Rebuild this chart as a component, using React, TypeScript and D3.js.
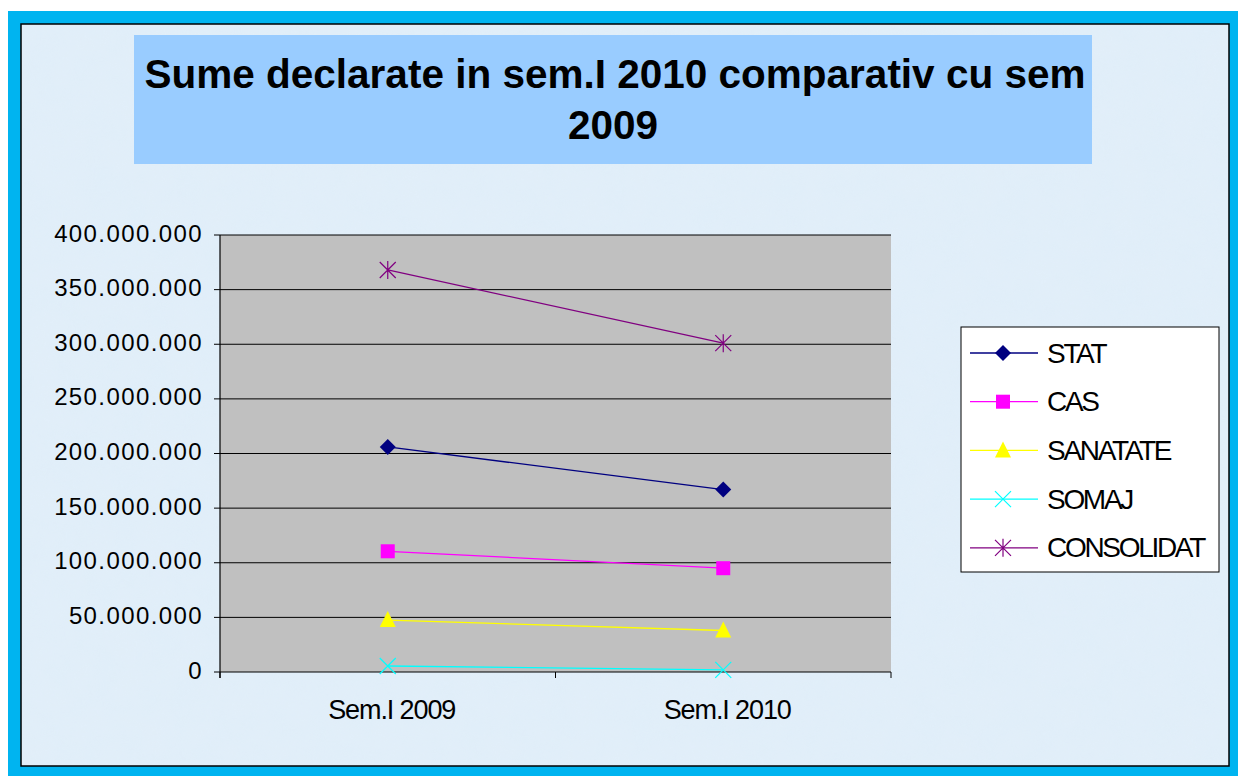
import React from "react";
import * as d3 from "d3";

const categories = ["Sem.I 2009", "Sem.I 2010"];
const seriesNames = ["STAT", "CAS", "SANATATE", "SOMAJ", "CONSOLIDAT"];
const statValues = [206000000, 167000000];
const casValues = [110500000, 95000000];
const sanatateValues = [47500000, 38000000];
const somajValues = [5500000, 2000000];
const consolidatValues = [368000000, 301000000];
const yTicks = [0, 50000000, 100000000, 150000000, 200000000, 250000000, 300000000, 350000000, 400000000];

const colors = ["#000080", "#FF00FF", "#FFFF00", "#00FFFF", "#800080"];
const markers = ["diamond", "square", "triangle", "x", "star"];

const W = 1238;
const H = 776;
const plot = { left: 220, right: 891, top: 235, bottom: 672 };

const fmt = (v: number) => (v === 0 ? "0" : d3.format(",")(v).replace(/,/g, "."));

const Marker = ({ type, x, y, color }: { type: string; x: number; y: number; color: string }) => {
  if (type === "diamond") {
    return <path d={`M${x},${y - 8}L${x + 8},${y}L${x},${y + 8}L${x - 8},${y}Z`} fill={color} />;
  }
  if (type === "square") {
    return <rect x={x - 7} y={y - 7} width={14} height={14} fill={color} />;
  }
  if (type === "triangle") {
    return <path d={`M${x},${y - 9}L${x + 8},${y + 7}L${x - 8},${y + 7}Z`} fill={color} />;
  }
  if (type === "x") {
    return (
      <path d={`M${x - 8},${y - 8}L${x + 8},${y + 8}M${x - 8},${y + 8}L${x + 8},${y - 8}`} stroke={color} strokeWidth={1.2} />
    );
  }
  return (
    <path
      d={`M${x - 8},${y - 8}L${x + 8},${y + 8}M${x - 8},${y + 8}L${x + 8},${y - 8}M${x},${y - 9}L${x},${y + 9}`}
      stroke={color}
      strokeWidth={1.2}
    />
  );
};

const App = () => {
  const series = [statValues, casValues, sanatateValues, somajValues, consolidatValues];

  const x = d3.scaleBand().domain(categories).range([plot.left, plot.right]);
  const y = d3.scaleLinear().domain([0, 400000000]).range([plot.bottom, plot.top]);
  const line = d3
    .line<number>()
    .x((d, i) => (x(categories[i]) as number) + x.bandwidth() / 2)
    .y((d) => y(d));

  const font = "Arial, 'Liberation Sans', sans-serif";

  return (
    <svg width={W} height={H} style={{ position: "absolute", left: 0, top: 0 }}>
      <defs>
        <filter id="tex" x="0" y="0" width="100%" height="100%">
          <feTurbulence type="fractalNoise" baseFrequency="0.035" numOctaves={3} seed={4} />
          <feColorMatrix
            type="matrix"
            values="0 0 0 0 0.78  0 0 0 0 0.86  0 0 0 0 0.94  0 0 0 0.6 0"
          />
        </filter>
      </defs>
      {/* frame */}
      <rect x={8} y={11} width={W - 8} height={H - 11} fill="#00B4F0" />
      <rect x={21} y={24} width={1208} height={742} fill="#E0EEF9" stroke="#000" strokeWidth={1.5} />
      <rect x={22} y={25} width={1206} height={740} filter="url(#tex)" opacity={0.6} />

      {/* title */}
      <rect x={134} y={35} width={958} height={129} fill="#99CCFF" />
      <text x={615} y={88} textAnchor="middle" fontFamily={font} fontWeight="bold" fontSize={40.5}>
        Sume declarate in sem.I 2010 comparativ cu sem
      </text>
      <text x={613} y={139} textAnchor="middle" fontFamily={font} fontWeight="bold" fontSize={40.5}>
        2009
      </text>

      {/* plot area */}
      <rect x={plot.left} y={plot.top} width={plot.right - plot.left} height={plot.bottom - plot.top} fill="#C0C0C0" />
      {yTicks.map((t) => (
        <g key={t}>
          <line x1={214} x2={plot.right} y1={y(t)} y2={y(t)} stroke="#000" strokeWidth={1} />
          <text
            x={203}
            y={y(t) + 6.5}
            textAnchor="end"
            fontFamily={font}
            fontSize={24}
            letterSpacing={1.4}
          >
            {fmt(t)}
          </text>
        </g>
      ))}
      <line x1={plot.left} x2={plot.left} y1={plot.top} y2={plot.bottom + 6} stroke="#000" strokeWidth={1.2} />
      {[plot.left, (x(categories[1]) as number), plot.right].map((tx, i) => (
        <line key={i} x1={tx} x2={tx} y1={plot.bottom} y2={plot.bottom + 6} stroke="#000" strokeWidth={1} />
      ))}
      {categories.map((c) => (
        <text
          key={c}
          x={(x(c) as number) + x.bandwidth() / 2 + 4}
          y={719}
          textAnchor="middle"
          fontFamily={font}
          fontSize={27}
          letterSpacing={-1.1}
        >
          {c}
        </text>
      ))}

      {/* series */}
      {series.map((vals, si) => (
        <g key={si}>
          <path d={line(vals) as string} fill="none" stroke={colors[si]} strokeWidth={1.3} />
          {vals.map((v, i) => (
            <Marker
              key={i}
              type={markers[si]}
              x={(x(categories[i]) as number) + x.bandwidth() / 2}
              y={y(v)}
              color={colors[si]}
            />
          ))}
        </g>
      ))}

      {/* legend */}
      <rect x={961} y={327} width={258} height={245} fill="#fff" stroke="#000" strokeWidth={1} />
      {seriesNames.map((n, i) => {
        const ly = 353 + i * 48.7;
        return (
          <g key={n}>
            <line x1={970} x2={1038} y1={ly} y2={ly} stroke={colors[i]} strokeWidth={1.3} />
            <Marker type={markers[i]} x={1003} y={ly} color={colors[i]} />
            <text x={1047} y={ly + 9.5} fontFamily={font} fontSize={28} letterSpacing={-2.3}>
              {n}
            </text>
          </g>
        );
      })}
    </svg>
  );
};

export default App;
